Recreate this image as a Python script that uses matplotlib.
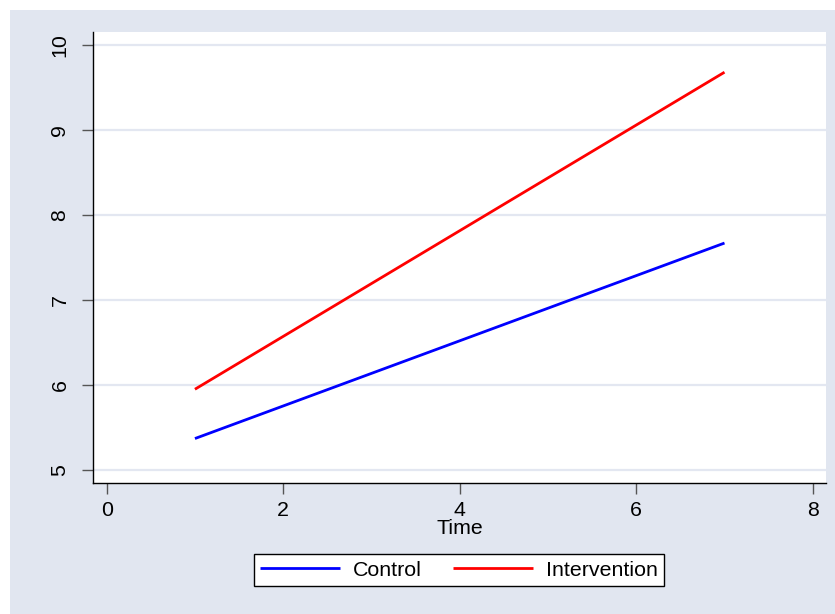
import matplotlib
matplotlib.use("Agg")
import matplotlib.pyplot as plt
from matplotlib.patches import Rectangle

# Predicted outcome over time for the two study arms
time = [1, 7]
control = [5.37, 7.67]
intervention = [5.95, 9.68]

x_ticks = [0, 2, 4, 6, 8]
y_ticks = [5, 6, 7, 8, 9, 10]

plt.rcParams["font.family"] = ["Liberation Sans", "DejaVu Sans"]
FS = 15.4

fig = plt.figure(figsize=(8.35, 6.14), dpi=100, facecolor="white")
W, H = 835, 614

# shaded graph region, inset from the top and left edges
bg = Rectangle((10 / W, 0), 1 - 10 / W, 1 - 10 / H,
               transform=fig.transFigure, facecolor="#E1E6F0",
               edgecolor="none", zorder=-10)
fig.patches.append(bg)

ax = fig.add_axes([93 / W, 1 - 483 / H, (826 - 93) / W, (483 - 32) / H])
ax.set_zorder(1)
ax.set_facecolor("white")

ax.plot(time, control, color="#0000FF", lw=2.0, label="Control", solid_capstyle="butt")
ax.plot(time, intervention, color="#FF0000", lw=2.0, label="Intervention", solid_capstyle="butt")

ax.set_xlim(-0.155, 8.15)
ax.set_ylim(4.847, 10.153)
ax.set_xticks(x_ticks)
ax.set_yticks(y_ticks)
ax.yaxis.grid(True, color="#E3E7F1", lw=1.6)
ax.set_axisbelow(True)

for s in ("top", "right"):
    ax.spines[s].set_visible(False)
for s in ("left", "bottom"):
    ax.spines[s].set_color("black")
    ax.spines[s].set_linewidth(1.0)

ax.tick_params(axis="both", direction="out", length=8, width=1.0, color="#555555",
               labelsize=FS)
ax.tick_params(axis="x", pad=5)
ax.tick_params(axis="y", pad=9)
for lbl in ax.get_yticklabels():
    lbl.set_rotation(90)
    lbl.set_va("center")

ax.set_xlabel("Time", fontsize=FS, labelpad=-1)

leg = fig.legend(loc="center", bbox_to_anchor=(459 / W, 1 - 570 / H), ncol=2,
                 fontsize=FS, frameon=True, fancybox=False, framealpha=1.0,
                 handlelength=3.75, columnspacing=1.45, handletextpad=0.6, borderpad=0.3)
leg.get_frame().set_edgecolor("black")
leg.get_frame().set_linewidth(1.0)
leg.get_frame().set_facecolor("white")
leg.set_zorder(5)

fig.savefig("out.png", dpi=100, facecolor="white")
